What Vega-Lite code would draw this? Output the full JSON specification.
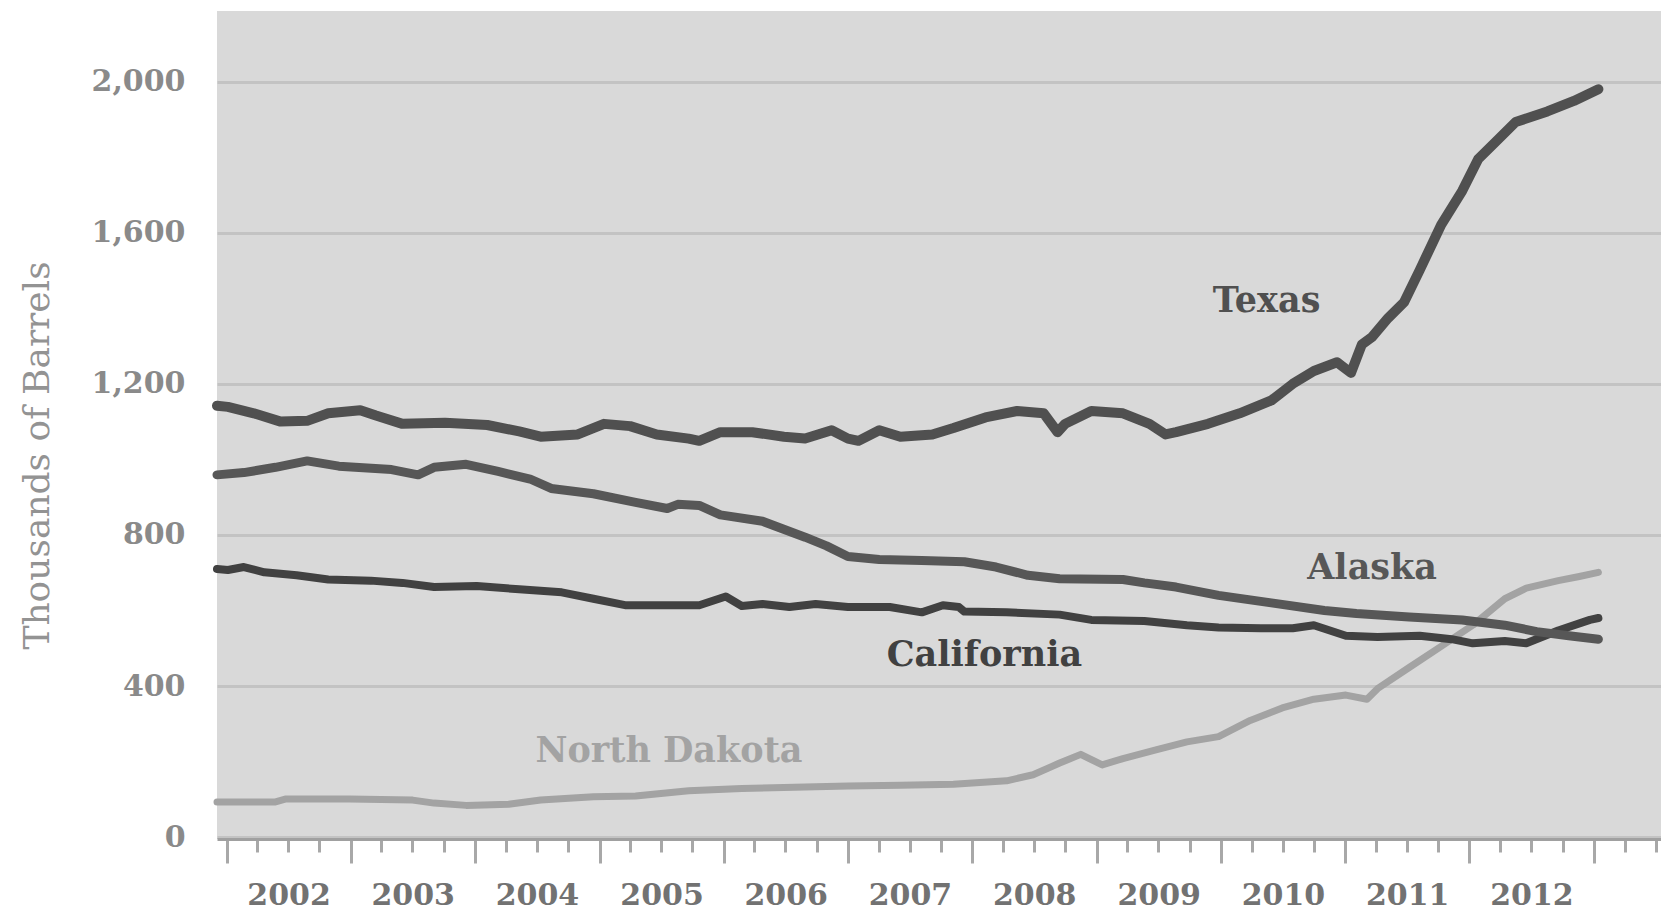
{
  "$schema": "https://vega.github.io/schema/vega-lite/v6.json",
  "width": 1444,
  "height": 828,
  "autosize": {"type": "none"},
  "padding": {"left": 217, "top": 11, "right": 0, "bottom": 74},
  "background": "#ffffff",
  "config": {
    "view": {"fill": "#d9d9d9", "stroke": null},
    "font": "DejaVu Serif"
  },
  "datasets": {
    "series": [
      {"state": "North Dakota", "date": "2001-12-04", "value": 93},
      {"state": "North Dakota", "date": "2002-05-25", "value": 93},
      {"state": "North Dakota", "date": "2002-06-25", "value": 101},
      {"state": "North Dakota", "date": "2002-12-28", "value": 101},
      {"state": "North Dakota", "date": "2003-07-02", "value": 98},
      {"state": "North Dakota", "date": "2003-09-03", "value": 90},
      {"state": "North Dakota", "date": "2003-12-06", "value": 84},
      {"state": "North Dakota", "date": "2004-04-09", "value": 87},
      {"state": "North Dakota", "date": "2004-07-12", "value": 98},
      {"state": "North Dakota", "date": "2004-12-14", "value": 107},
      {"state": "North Dakota", "date": "2005-04-17", "value": 109},
      {"state": "North Dakota", "date": "2005-09-20", "value": 123},
      {"state": "North Dakota", "date": "2006-02-23", "value": 129},
      {"state": "North Dakota", "date": "2006-07-28", "value": 132},
      {"state": "North Dakota", "date": "2007-01-01", "value": 135},
      {"state": "North Dakota", "date": "2007-06-04", "value": 137},
      {"state": "North Dakota", "date": "2007-11-07", "value": 140},
      {"state": "North Dakota", "date": "2008-04-11", "value": 149},
      {"state": "North Dakota", "date": "2008-06-28", "value": 165},
      {"state": "North Dakota", "date": "2008-09-14", "value": 196},
      {"state": "North Dakota", "date": "2008-11-15", "value": 219},
      {"state": "North Dakota", "date": "2009-01-17", "value": 191},
      {"state": "North Dakota", "date": "2009-03-19", "value": 208},
      {"state": "North Dakota", "date": "2009-06-21", "value": 230},
      {"state": "North Dakota", "date": "2009-09-23", "value": 252},
      {"state": "North Dakota", "date": "2009-12-25", "value": 266},
      {"state": "North Dakota", "date": "2010-03-28", "value": 309},
      {"state": "North Dakota", "date": "2010-06-30", "value": 342},
      {"state": "North Dakota", "date": "2010-10-01", "value": 365},
      {"state": "North Dakota", "date": "2011-01-03", "value": 376},
      {"state": "North Dakota", "date": "2011-03-06", "value": 365},
      {"state": "North Dakota", "date": "2011-04-06", "value": 393},
      {"state": "North Dakota", "date": "2011-07-08", "value": 449},
      {"state": "North Dakota", "date": "2011-10-10", "value": 505},
      {"state": "North Dakota", "date": "2012-01-11", "value": 561},
      {"state": "North Dakota", "date": "2012-04-14", "value": 631},
      {"state": "North Dakota", "date": "2012-06-16", "value": 659},
      {"state": "North Dakota", "date": "2012-09-18", "value": 679},
      {"state": "North Dakota", "date": "2012-11-19", "value": 690},
      {"state": "North Dakota", "date": "2013-01-14", "value": 701},

      {"state": "California", "date": "2001-12-04", "value": 710},
      {"state": "California", "date": "2002-01-05", "value": 707},
      {"state": "California", "date": "2002-02-21", "value": 715},
      {"state": "California", "date": "2002-04-22", "value": 701},
      {"state": "California", "date": "2002-07-26", "value": 693},
      {"state": "California", "date": "2002-10-27", "value": 682},
      {"state": "California", "date": "2003-03-01", "value": 679},
      {"state": "California", "date": "2003-06-02", "value": 673},
      {"state": "California", "date": "2003-09-03", "value": 662},
      {"state": "California", "date": "2004-01-06", "value": 665},
      {"state": "California", "date": "2004-05-10", "value": 656},
      {"state": "California", "date": "2004-09-12", "value": 648},
      {"state": "California", "date": "2004-12-14", "value": 631},
      {"state": "California", "date": "2005-03-17", "value": 614},
      {"state": "California", "date": "2005-06-18", "value": 614},
      {"state": "California", "date": "2005-10-21", "value": 614},
      {"state": "California", "date": "2006-01-07", "value": 637},
      {"state": "California", "date": "2006-02-23", "value": 612},
      {"state": "California", "date": "2006-04-25", "value": 617},
      {"state": "California", "date": "2006-07-13", "value": 609},
      {"state": "California", "date": "2006-09-28", "value": 617},
      {"state": "California", "date": "2007-01-01", "value": 609},
      {"state": "California", "date": "2007-05-04", "value": 609},
      {"state": "California", "date": "2007-08-06", "value": 595},
      {"state": "California", "date": "2007-10-07", "value": 614},
      {"state": "California", "date": "2007-11-23", "value": 609},
      {"state": "California", "date": "2007-12-09", "value": 597},
      {"state": "California", "date": "2008-04-11", "value": 595},
      {"state": "California", "date": "2008-09-14", "value": 589},
      {"state": "California", "date": "2008-12-16", "value": 575},
      {"state": "California", "date": "2009-05-21", "value": 572},
      {"state": "California", "date": "2009-09-23", "value": 561},
      {"state": "California", "date": "2009-12-25", "value": 555},
      {"state": "California", "date": "2010-04-28", "value": 553},
      {"state": "California", "date": "2010-07-31", "value": 553},
      {"state": "California", "date": "2010-10-01", "value": 561},
      {"state": "California", "date": "2011-01-03", "value": 533},
      {"state": "California", "date": "2011-04-06", "value": 530},
      {"state": "California", "date": "2011-08-08", "value": 533},
      {"state": "California", "date": "2011-11-10", "value": 524},
      {"state": "California", "date": "2012-01-11", "value": 513},
      {"state": "California", "date": "2012-04-14", "value": 519},
      {"state": "California", "date": "2012-06-16", "value": 513},
      {"state": "California", "date": "2012-09-18", "value": 547},
      {"state": "California", "date": "2012-12-20", "value": 575},
      {"state": "California", "date": "2013-01-14", "value": 580},

      {"state": "Alaska", "date": "2001-12-04", "value": 959},
      {"state": "Alaska", "date": "2002-02-21", "value": 965},
      {"state": "Alaska", "date": "2002-05-25", "value": 979},
      {"state": "Alaska", "date": "2002-08-26", "value": 996},
      {"state": "Alaska", "date": "2002-11-27", "value": 982},
      {"state": "Alaska", "date": "2003-05-01", "value": 973},
      {"state": "Alaska", "date": "2003-07-18", "value": 959},
      {"state": "Alaska", "date": "2003-09-03", "value": 979},
      {"state": "Alaska", "date": "2003-12-06", "value": 987},
      {"state": "Alaska", "date": "2004-03-09", "value": 968},
      {"state": "Alaska", "date": "2004-06-11", "value": 948},
      {"state": "Alaska", "date": "2004-08-12", "value": 923},
      {"state": "Alaska", "date": "2004-12-14", "value": 909},
      {"state": "Alaska", "date": "2005-04-17", "value": 886},
      {"state": "Alaska", "date": "2005-07-19", "value": 870},
      {"state": "Alaska", "date": "2005-08-19", "value": 881},
      {"state": "Alaska", "date": "2005-10-21", "value": 878},
      {"state": "Alaska", "date": "2005-12-22", "value": 853},
      {"state": "Alaska", "date": "2006-04-25", "value": 836},
      {"state": "Alaska", "date": "2006-08-28", "value": 794},
      {"state": "Alaska", "date": "2006-10-30", "value": 771},
      {"state": "Alaska", "date": "2007-01-01", "value": 743},
      {"state": "Alaska", "date": "2007-04-03", "value": 735},
      {"state": "Alaska", "date": "2007-08-06", "value": 732},
      {"state": "Alaska", "date": "2007-12-09", "value": 729},
      {"state": "Alaska", "date": "2008-03-11", "value": 715},
      {"state": "Alaska", "date": "2008-06-13", "value": 693},
      {"state": "Alaska", "date": "2008-09-14", "value": 684},
      {"state": "Alaska", "date": "2009-03-19", "value": 682},
      {"state": "Alaska", "date": "2009-05-21", "value": 673},
      {"state": "Alaska", "date": "2009-08-22", "value": 662},
      {"state": "Alaska", "date": "2009-12-25", "value": 640},
      {"state": "Alaska", "date": "2010-05-29", "value": 620},
      {"state": "Alaska", "date": "2010-11-01", "value": 600},
      {"state": "Alaska", "date": "2011-02-03", "value": 592},
      {"state": "Alaska", "date": "2011-07-08", "value": 583},
      {"state": "Alaska", "date": "2011-12-11", "value": 575},
      {"state": "Alaska", "date": "2012-04-14", "value": 561},
      {"state": "Alaska", "date": "2012-07-17", "value": 544},
      {"state": "Alaska", "date": "2012-10-19", "value": 533},
      {"state": "Alaska", "date": "2013-01-14", "value": 524},

      {"state": "Texas", "date": "2001-12-04", "value": 1142},
      {"state": "Texas", "date": "2002-01-05", "value": 1139},
      {"state": "Texas", "date": "2002-03-22", "value": 1122},
      {"state": "Texas", "date": "2002-06-09", "value": 1100},
      {"state": "Texas", "date": "2002-08-26", "value": 1102},
      {"state": "Texas", "date": "2002-10-27", "value": 1122},
      {"state": "Texas", "date": "2003-01-29", "value": 1130},
      {"state": "Texas", "date": "2003-03-16", "value": 1116},
      {"state": "Texas", "date": "2003-06-02", "value": 1094},
      {"state": "Texas", "date": "2003-10-05", "value": 1097},
      {"state": "Texas", "date": "2004-02-06", "value": 1091},
      {"state": "Texas", "date": "2004-05-10", "value": 1074},
      {"state": "Texas", "date": "2004-07-12", "value": 1060},
      {"state": "Texas", "date": "2004-10-29", "value": 1066},
      {"state": "Texas", "date": "2005-01-14", "value": 1094},
      {"state": "Texas", "date": "2005-04-01", "value": 1088},
      {"state": "Texas", "date": "2005-06-18", "value": 1066},
      {"state": "Texas", "date": "2005-09-20", "value": 1055},
      {"state": "Texas", "date": "2005-10-21", "value": 1049},
      {"state": "Texas", "date": "2005-12-22", "value": 1072},
      {"state": "Texas", "date": "2006-03-26", "value": 1072},
      {"state": "Texas", "date": "2006-06-27", "value": 1060},
      {"state": "Texas", "date": "2006-08-28", "value": 1055},
      {"state": "Texas", "date": "2006-11-14", "value": 1077},
      {"state": "Texas", "date": "2007-01-01", "value": 1055},
      {"state": "Texas", "date": "2007-02-01", "value": 1049},
      {"state": "Texas", "date": "2007-04-03", "value": 1077},
      {"state": "Texas", "date": "2007-06-04", "value": 1060},
      {"state": "Texas", "date": "2007-09-06", "value": 1066},
      {"state": "Texas", "date": "2007-11-07", "value": 1083},
      {"state": "Texas", "date": "2008-02-09", "value": 1111},
      {"state": "Texas", "date": "2008-05-12", "value": 1128},
      {"state": "Texas", "date": "2008-07-29", "value": 1122},
      {"state": "Texas", "date": "2008-09-08", "value": 1072},
      {"state": "Texas", "date": "2008-09-30", "value": 1094},
      {"state": "Texas", "date": "2008-12-16", "value": 1128},
      {"state": "Texas", "date": "2009-03-19", "value": 1122},
      {"state": "Texas", "date": "2009-06-05", "value": 1094},
      {"state": "Texas", "date": "2009-07-22", "value": 1066},
      {"state": "Texas", "date": "2009-08-22", "value": 1072},
      {"state": "Texas", "date": "2009-11-24", "value": 1094},
      {"state": "Texas", "date": "2010-02-25", "value": 1122},
      {"state": "Texas", "date": "2010-05-29", "value": 1156},
      {"state": "Texas", "date": "2010-07-31", "value": 1200},
      {"state": "Texas", "date": "2010-10-01", "value": 1234},
      {"state": "Texas", "date": "2010-12-08", "value": 1257},
      {"state": "Texas", "date": "2011-01-18", "value": 1229},
      {"state": "Texas", "date": "2011-02-19", "value": 1304},
      {"state": "Texas", "date": "2011-03-21", "value": 1324},
      {"state": "Texas", "date": "2011-05-07", "value": 1374},
      {"state": "Texas", "date": "2011-06-23", "value": 1416},
      {"state": "Texas", "date": "2011-08-08", "value": 1501},
      {"state": "Texas", "date": "2011-10-10", "value": 1621},
      {"state": "Texas", "date": "2011-12-11", "value": 1711},
      {"state": "Texas", "date": "2012-01-27", "value": 1795},
      {"state": "Texas", "date": "2012-03-14", "value": 1837},
      {"state": "Texas", "date": "2012-05-16", "value": 1893},
      {"state": "Texas", "date": "2012-08-17", "value": 1921},
      {"state": "Texas", "date": "2012-11-03", "value": 1949},
      {"state": "Texas", "date": "2013-01-14", "value": 1980}
    ],
    "labels": [
      {"state": "Texas", "date": "2010-05-15", "value": 1418},
      {"state": "Alaska", "date": "2011-03-21", "value": 712},
      {"state": "California", "date": "2008-02-06", "value": 482},
      {"state": "North Dakota", "date": "2005-07-24", "value": 228}
    ]
  },
  "encoding": {
    "x": {
      "field": "date",
      "type": "temporal",
      "scale": {
        "domain": [{"year": 2001, "month": 12, "date": 4}, {"year": 2013, "month": 7, "date": 17}],
        "nice": false
      },
      "axis": {
        "title": null,
        "grid": false,
        "tickCount": {"interval": "month", "step": 3},
        "labelExpr": "month(datum.value) == 0 && year(datum.value) < 2013 ? timeFormat(datum.value, '%Y') : ''",
        "labelOffset": 62,
        "labelAlign": "center",
        "labelOverlap": false,
        "labelFlush": false,
        "labelBound": false,
        "labelFont": "DejaVu Serif",
        "labelFontSize": 30,
        "labelFontWeight": "bold",
        "labelColor": "#727272",
        "labelPadding": 17,
        "tickSize": {"condition": {"test": "month(datum.value) == 0", "value": 24}, "value": 13},
        "tickColor": "#a8a8a8",
        "tickWidth": 3,
        "domainColor": "#a0a0a0",
        "domainWidth": 3
      }
    },
    "y": {
      "field": "value",
      "type": "quantitative",
      "scale": {"domain": [-5, 2187], "nice": false, "zero": false},
      "axis": {
        "title": "Thousands of Barrels",
        "titleFont": "DejaVu Serif",
        "titleFontSize": 36,
        "titleFontWeight": "normal",
        "titleColor": "#939393",
        "titleX": -180,
        "titleY": 444,
        "titleAngle": -90,
        "titleAlign": "center",
        "titleBaseline": "middle",
        "values": [0, 400, 800, 1200, 1600, 2000],
        "format": ",d",
        "labelFont": "DejaVu Serif",
        "labelFontSize": 30,
        "labelFontWeight": "bold",
        "labelColor": "#8a8a8a",
        "labelPadding": 32,
        "ticks": false,
        "domain": false,
        "grid": true,
        "gridColor": "#c3c3c3",
        "gridWidth": 3
      }
    }
  },
  "layer": [
    {
      "data": {"name": "series"},
      "mark": {"type": "line", "strokeCap": "round", "strokeJoin": "round"},
      "encoding": {
        "color": {
          "field": "state",
          "type": "nominal",
          "scale": {
            "domain": ["North Dakota", "California", "Alaska", "Texas"],
            "range": ["#a3a3a3", "#414141", "#575757", "#505050"]
          },
          "legend": null
        },
        "strokeWidth": {
          "field": "state",
          "type": "nominal",
          "scale": {
            "domain": ["North Dakota", "California", "Alaska", "Texas"],
            "range": [7, 10, 10, 10]
          },
          "legend": null
        }
      }
    },
    {
      "data": {"name": "labels"},
      "mark": {"type": "text", "font": "DejaVu Serif", "fontSize": 35, "fontWeight": "bold", "align": "center", "baseline": "middle"},
      "encoding": {
        "text": {"field": "state", "type": "nominal"},
        "color": {
          "field": "state",
          "type": "nominal",
          "scale": {
            "domain": ["North Dakota", "California", "Alaska", "Texas"],
            "range": ["#b3b3b3", "#414141", "#575757", "#505050"]
          },
          "legend": null
        }
      }
    }
  ]
}
